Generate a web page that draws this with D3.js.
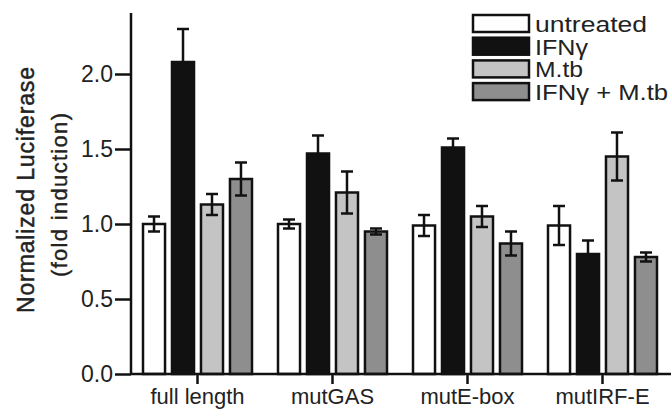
<!DOCTYPE html>
<html>
<head>
<meta charset="utf-8">
<script src="https://cdn.jsdelivr.net/npm/d3@7"></script>
<style>
  body { margin: 0; background: #fff; }
  text { font-family: "Liberation Sans", Arial, sans-serif; fill: #222; }
</style>
</head>
<body>
<div id="chart"></div>
<script>
const categories = ["full length", "mutGAS", "mutE-box", "mutIRF-E"];
const series = ["untreated", "IFNγ", "M.tb", "IFNγ + M.tb"];
const means = [
  [1.00, 2.08, 1.13, 1.30],
  [1.00, 1.47, 1.21, 0.95],
  [0.99, 1.51, 1.05, 0.87],
  [0.99, 0.80, 1.45, 0.78]
];
const errors = [
  [0.05, 0.22, 0.07, 0.11],
  [0.03, 0.12, 0.14, 0.02],
  [0.07, 0.06, 0.07, 0.08],
  [0.13, 0.09, 0.16, 0.03]
];
const yTicks = [0, 0.5, 1.0, 1.5, 2.0];
const fills = ["#ffffff", "#111111", "#c4c4c4", "#8e8e8e"];
const legendWidths = [112, 53, 48, 133];

const width = 671, height = 420;
const svg = d3.select("#chart").append("svg")
  .attr("width", width).attr("height", height);

const y = d3.scaleLinear().domain([0, 2.4]).range([374, 14]);
const x = d3.scaleBand().domain(categories).range([130, 670]);
const xInner = d3.scaleBand().domain(series).range([-54.5, 54.5]).paddingInner(0.24);

// axes
const yAxis = svg.append("g").attr("transform", "translate(131,0)")
  .call(d3.axisLeft(y).tickValues(yTicks).tickFormat(d3.format(".1f")).tickSize(16).tickPadding(2));
yAxis.select(".domain").remove();
yAxis.append("line").attr("x1", 0).attr("x2", 0).attr("y1", 13).attr("y2", y(0) + 1)
  .attr("stroke", "#111").attr("stroke-width", 2.5);
yAxis.selectAll(".tick line").attr("stroke", "#111").attr("stroke-width", 2.5);
yAxis.selectAll(".tick text").attr("font-size", 23).attr("fill", "#333")
  .style("font-family", "'Liberation Sans', Arial, sans-serif");

svg.append("text")
  .attr("transform", "translate(34,190) rotate(-90)")
  .attr("text-anchor", "middle").attr("font-size", 23)
  .attr("stroke", "#222").attr("stroke-width", 0.5)
  .attr("textLength", 246).attr("lengthAdjust", "spacing")
  .text("Normalized Luciferase");
svg.append("text")
  .attr("transform", "translate(67,195) rotate(-90)")
  .attr("text-anchor", "middle").attr("font-size", 22)
  .attr("stroke", "#222").attr("stroke-width", 0.4)
  .attr("textLength", 164).attr("lengthAdjust", "spacing")
  .text("(fold induction)");

// bars
const groups = svg.selectAll(".grp")
  .data(categories)
  .enter().append("g")
  .attr("class", "grp")
  .attr("transform", d => `translate(${x(d) + x.bandwidth() / 2},0)`);

const bars = groups.selectAll(".bar")
  .data((d, i) => series.map((s, j) => ({ s, j, v: means[i][j], e: errors[i][j] })))
  .enter().append("g").attr("class", "bar");

bars.append("rect")
  .attr("x", d => xInner(d.s))
  .attr("width", xInner.bandwidth())
  .attr("y", d => y(d.v))
  .attr("height", d => y(0) - y(d.v))
  .attr("fill", d => fills[d.j])
  .attr("stroke", "#111").attr("stroke-width", 2.5);

const cx = d => xInner(d.s) + xInner.bandwidth() / 2;
bars.append("line")
  .attr("x1", cx).attr("x2", cx)
  .attr("y1", d => y(d.v + d.e)).attr("y2", d => y(d.v - d.e))
  .attr("stroke", "#111").attr("stroke-width", 2.5);
[1, -1].forEach(sgn => {
  bars.append("line")
    .attr("x1", d => cx(d) - 6).attr("x2", d => cx(d) + 6)
    .attr("y1", d => y(d.v + sgn * d.e)).attr("y2", d => y(d.v + sgn * d.e))
    .attr("stroke", "#111").attr("stroke-width", 2.5);
});

// x axis
svg.append("line").attr("x1", 131).attr("x2", 671).attr("y1", y(0)).attr("y2", y(0))
  .attr("stroke", "#111").attr("stroke-width", 2.5);
groups.append("line").attr("x1", 0).attr("x2", 0).attr("y1", y(0)).attr("y2", y(0) + 10)
  .attr("stroke", "#111").attr("stroke-width", 2.5);
groups.append("text")
  .attr("y", 404).attr("text-anchor", "middle").attr("font-size", 22)
  .text(d => d);

// legend
const legend = svg.selectAll(".leg")
  .data(series)
  .enter().append("g")
  .attr("class", "leg")
  .attr("transform", (d, i) => `translate(473,${15 + i * 22.7})`);
legend.append("rect")
  .attr("width", 56).attr("height", 17)
  .attr("fill", (d, i) => fills[i])
  .attr("stroke", "#111").attr("stroke-width", 2.5);
legend.append("text")
  .attr("x", 62).attr("y", 17).attr("font-size", 22)
  .attr("textLength", (d, i) => legendWidths[i]).attr("lengthAdjust", "spacingAndGlyphs")
  .text(d => d);
</script>
</body>
</html>
